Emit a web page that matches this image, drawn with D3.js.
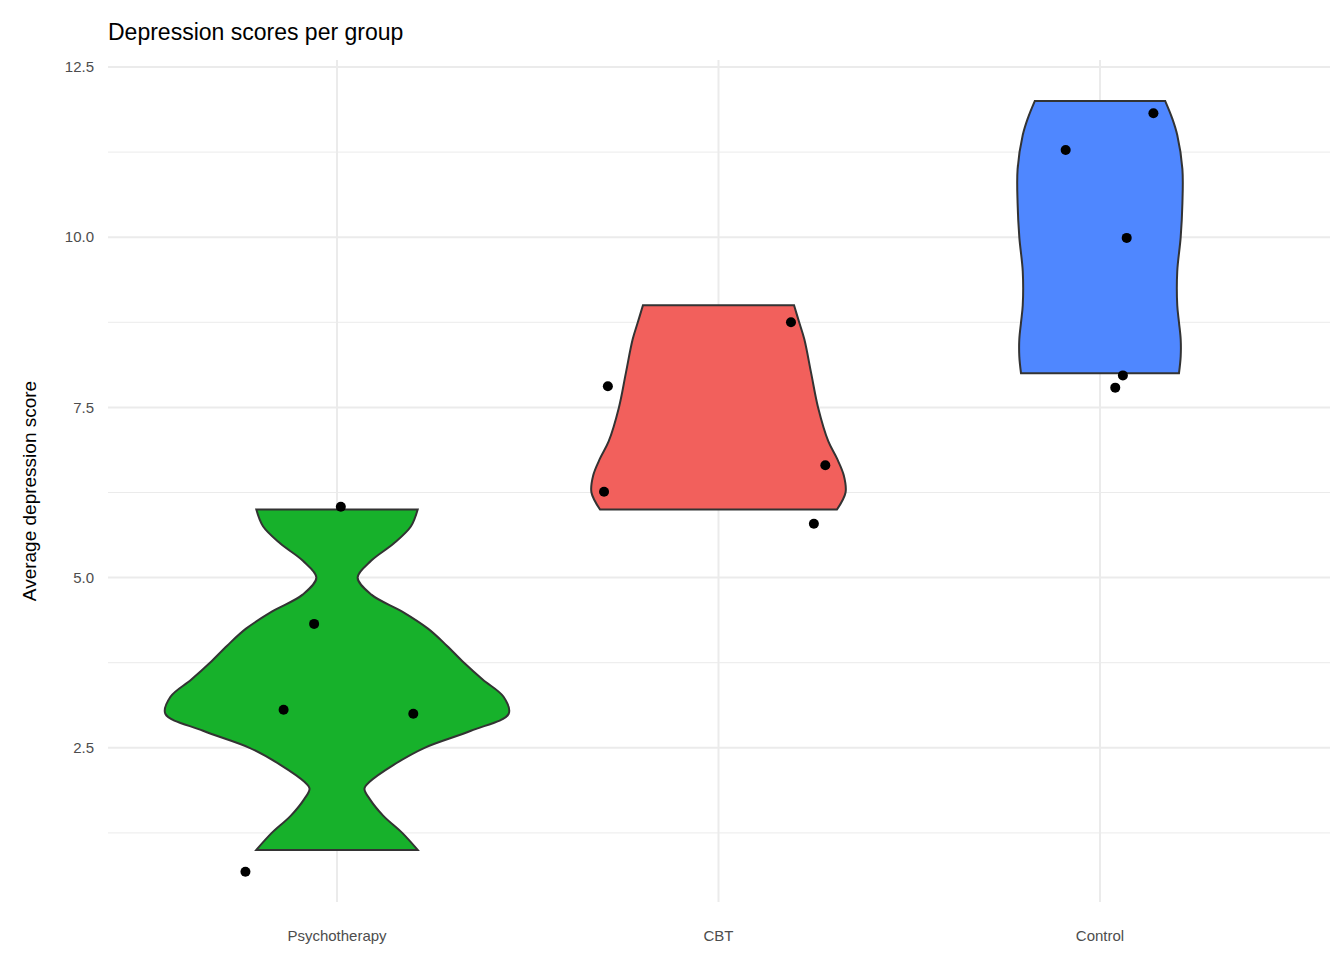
<!DOCTYPE html>
<html><head><meta charset="utf-8">
<script src="https://cdn.jsdelivr.net/npm/d3@7"></script>
<style>body{margin:0;background:#fff;font-family:"Liberation Sans",Arial,sans-serif}</style>
</head><body>
<svg id="chart" width="1344" height="960"></svg>
<script>
const groups = ['Psychotherapy', 'CBT', 'Control']
const colors = ['#17B12B', '#F2605C', '#4F87FF']
const yTicks = [2.5, 5.0, 7.5, 10.0, 12.5]
// violin outlines: [score, relative half-width]
const violinPsy = [[1, 0.47], [1.25, 0.38], [1.5, 0.27], [1.75, 0.19], [1.9, 0.16], [2, 0.19], [2.25, 0.33], [2.5, 0.51], [2.75, 0.78], [3, 1.0], [3.25, 0.97], [3.5, 0.85], [3.75, 0.74], [4, 0.64], [4.25, 0.53], [4.5, 0.38], [4.75, 0.2], [5, 0.12], [5.25, 0.2], [5.5, 0.33], [5.75, 0.43], [6, 0.47]]
const violinCbt = [[6, 0.69], [6.25, 0.74], [6.5, 0.73], [6.75, 0.69], [7, 0.64], [7.5, 0.58], [8, 0.54], [8.5, 0.5], [8.75, 0.47], [9, 0.44]]
const violinCtl = [[8, 0.46], [8.25, 0.47], [8.5, 0.47], [8.75, 0.46], [9, 0.45], [9.5, 0.45], [10, 0.47], [10.5, 0.48], [11, 0.48], [11.5, 0.45], [11.75, 0.42], [12, 0.38]]
const violins = [violinPsy, violinCbt, violinCtl]
// jittered points: [x offset in category units, score]
const pointsPsy = [[0.01, 6.04], [-0.06, 4.32], [-0.14, 3.06], [0.2, 3.0], [-0.24, 0.68]]
const pointsCbt = [[-0.29, 7.81], [-0.3, 6.26], [0.19, 8.75], [0.28, 6.65], [0.25, 5.79]]
const pointsCtl = [[-0.09, 11.28], [0.14, 11.82], [0.07, 9.99], [0.06, 7.97], [0.04, 7.79]]
const points = [pointsPsy, pointsCbt, pointsCtl]

const svg = d3.select('#chart')
const plotLeft = 108, plotRight = 1330, plotTop = 60, plotBottom = 902

const x = d3.scalePoint().domain(groups).range([337, 1100])
const band = x.step()
const y = d3.scaleLinear().domain([0, 12.5]).range([918, 67])
const w = d3.scaleLinear().domain([0, 1]).range([0, 0.45 * band])

// minor grid
d3.range(1.25, 12.5, 2.5).forEach(v => {
    svg.append('line').attr('x1', plotLeft).attr('x2', plotRight).attr('y1', y(v)).attr('y2', y(v))
        .attr('stroke', '#ebebeb').attr('stroke-width', 1)
})
yTicks.forEach(v => {
    svg.append('line').attr('x1', plotLeft).attr('x2', plotRight).attr('y1', y(v)).attr('y2', y(v))
        .attr('stroke', '#ebebeb').attr('stroke-width', 2)
    svg.append('text').attr('x', 94).attr('y', y(v)).attr('dy', '0.35em')
        .attr('text-anchor', 'end').attr('font-size', 15).attr('fill', '#4d4d4d')
        .text(v.toFixed(1))
})
groups.forEach(g => {
    svg.append('line').attr('x1', x(g)).attr('x2', x(g)).attr('y1', plotTop).attr('y2', plotBottom)
        .attr('stroke', '#ebebeb').attr('stroke-width', 2)
    svg.append('text').attr('x', x(g)).attr('y', 941).attr('text-anchor', 'middle')
        .attr('font-size', 15).attr('fill', '#4d4d4d').text(g)
})

// violins
groups.forEach((g, i) => {
    const prof = violins[i]
    const cx = x(g)
    const rightSide = prof.map(d => [cx + w(d[1]), y(d[0])])
    const leftSide = prof.slice().reverse().map(d => [cx - w(d[1]), y(d[0])])
    const line = d3.line().curve(d3.curveCatmullRom)
    const path = line(rightSide) + 'L' + line(leftSide).slice(1) + 'Z'
    svg.append('path').attr('d', path).attr('fill', colors[i])
        .attr('stroke', '#333').attr('stroke-width', 2)
})

// points
groups.forEach((g, i) => {
    svg.selectAll(null).data(points[i]).enter().append('circle')
        .attr('cx', d => x(g) + d[0] * band)
        .attr('cy', d => y(d[1]))
        .attr('r', 5).attr('fill', '#000')
})

svg.append('text').attr('x', 108).attr('y', 40).attr('font-size', 23).attr('fill', '#000')
    .text('Depression scores per group')
svg.append('text').attr('transform', `translate(36,${(plotTop + plotBottom) / 2 + 10}) rotate(-90)`)
    .attr('text-anchor', 'middle').attr('font-size', 19).attr('fill', '#000')
    .text('Average depression score')
</script>
</body></html>
